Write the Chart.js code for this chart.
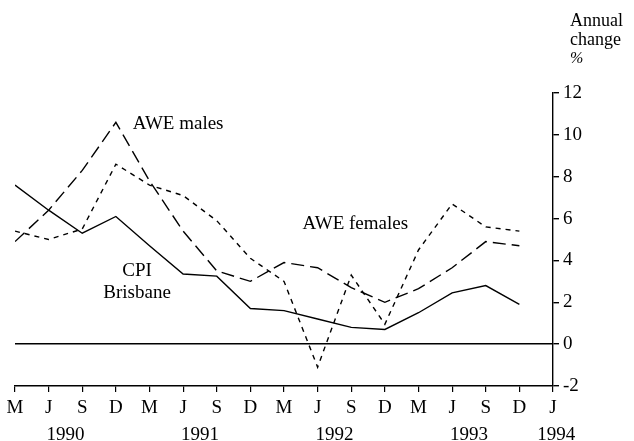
<!DOCTYPE html>
<html>
<head>
<meta charset="utf-8">
<script src="https://cdn.jsdelivr.net/npm/chart.js@4.4.1/dist/chart.umd.min.js"></script>
<style>
  html, body { margin: 0; padding: 0; background: #fff; }
  #wrap { width: 634px; height: 441px; }
</style>
</head>
<body>
<div id="wrap"><canvas id="wageChart" width="634" height="441"></canvas></div>
<script>
// quarters, March 1990 to June 1994
var quarters = ['M', 'J', 'S', 'D', 'M', 'J', 'S', 'D', 'M', 'J', 'S', 'D', 'M', 'J', 'S', 'D', 'J'];
var years = ['1990', '1991', '1992', '1993', '1994'];
var yearPos = [1.5, 5.5, 9.5, 13.5, 16.1];

// annual change, %
var cpiBrisbane = [7.6, 6.4, 5.3, 6.1, 4.7, 3.35, 3.25, 1.7, 1.6, 1.2, 0.8, 0.7, 1.5, 2.45, 2.8, 1.9];
var aweMales = [4.9, 6.4, 8.3, 10.6, 7.8, 5.4, 3.5, 3.0, 3.9, 3.65, 2.7, 2.0, 2.65, 3.65, 4.9, 4.7];
var aweFemales = [5.4, 5.0, 5.5, 8.6, 7.6, 7.1, 5.9, 4.1, 3.0, -1.1, 3.3, 0.95, 4.5, 6.7, 5.6, 5.4];

var yTicks = [-2, 0, 2, 4, 6, 8, 10, 12];

function toPoints(arr) {
    return arr.map(function (v, i) { return { x: i, y: v }; });
}

Chart.defaults.font.family = '"Liberation Serif", "Times New Roman", serif';
Chart.defaults.font.size = 19;
Chart.defaults.color = '#000';

// text labels on the plot and the axis title
var notes = {
    id: 'notes',
    afterDraw: function (chart) {
        var ctx = chart.ctx, x = chart.scales.x, y = chart.scales.y;
        ctx.save();
        ctx.fillStyle = '#000';
        ctx.font = '19px "Liberation Serif", serif';
        ctx.textBaseline = 'middle';
        ctx.textAlign = 'left';
        ctx.fillText('AWE males', x.getPixelForValue(3.5), y.getPixelForValue(10.5));
        ctx.fillText('AWE females', x.getPixelForValue(8.55), y.getPixelForValue(5.75));
        ctx.textAlign = 'center';
        ctx.fillText('CPI', x.getPixelForValue(3.63), y.getPixelForValue(3.5));
        ctx.fillText('Brisbane', x.getPixelForValue(3.63), y.getPixelForValue(2.45));
        ctx.textAlign = 'left';
        ctx.font = '18px "Liberation Serif", serif';
        ctx.fillText('Annual', 570, 21);
        ctx.fillText('change', 570, 40);
        ctx.font = 'italic 16px "Liberation Serif", serif';
        ctx.fillText('%', 570, 59);
        ctx.restore();
    }
};

var ctx = document.getElementById('wageChart');
var wageChart = new Chart(ctx, {
    type: 'line',
    data: {
        datasets: [
            {
                label: 'CPI Brisbane',
                data: toPoints(cpiBrisbane),
                borderColor: '#000',
                borderWidth: 1.4
            },
            {
                label: 'AWE males',
                data: toPoints(aweMales),
                borderColor: '#000',
                borderWidth: 1.4,
                borderDash: [13, 6]
            },
            {
                label: 'AWE females',
                data: toPoints(aweFemales),
                borderColor: '#000',
                borderWidth: 1.4,
                borderDash: [5, 5]
            }
        ]
    },
    options: {
        responsive: false,
        animation: false,
        layout: { padding: { left: 15, top: 93, right: 0, bottom: 0 } },
        elements: { point: { radius: 0 }, line: { tension: 0 } },
        plugins: { legend: { display: false }, tooltip: { enabled: false } },
        scales: {
            x: {
                type: 'linear',
                min: 0,
                max: 16,
                position: 'bottom',
                afterBuildTicks: function (s) {
                    s.ticks = quarters.map(function (q, i) { return { value: i }; });
                },
                afterFit: function (s) { s.height = 30; },
                ticks: {
                    padding: 5,
                    maxRotation: 0,
                    autoSkip: false,
                    callback: function (v, i) { return quarters[i]; }
                },
                grid: { drawOnChartArea: false, tickLength: 6, color: '#000', lineWidth: 1.2 },
                border: { color: '#000', width: 1.4 }
            },
            yr: {
                type: 'linear',
                min: 0,
                max: 16,
                position: 'bottom',
                afterBuildTicks: function (s) {
                    s.ticks = yearPos.map(function (p) { return { value: p }; });
                },
                afterFit: function (s) { s.height = 25; },
                ticks: {
                    padding: 8,
                    maxRotation: 0,
                    autoSkip: false,
                    callback: function (v, i) { return years[i]; }
                },
                grid: { display: false, drawTicks: false },
                border: { display: false }
            },
            y: {
                type: 'linear',
                position: 'right',
                min: -2,
                max: 12,
                afterBuildTicks: function (s) {
                    s.ticks = yTicks.map(function (t) { return { value: t }; });
                },
                afterFit: function (s) { s.width = 81; },
                ticks: { padding: 4, callback: function (v) { return String(v); } },
                grid: {
                    tickLength: 6,
                    lineWidth: 1.4,
                    tickColor: '#000',
                    color: function (c) { return c.tick && c.tick.value === 0 ? '#000' : 'rgba(0,0,0,0)'; }
                },
                border: { color: '#000', width: 1.4 }
            }
        }
    },
    plugins: [notes]
});
</script>
</body>
</html>
